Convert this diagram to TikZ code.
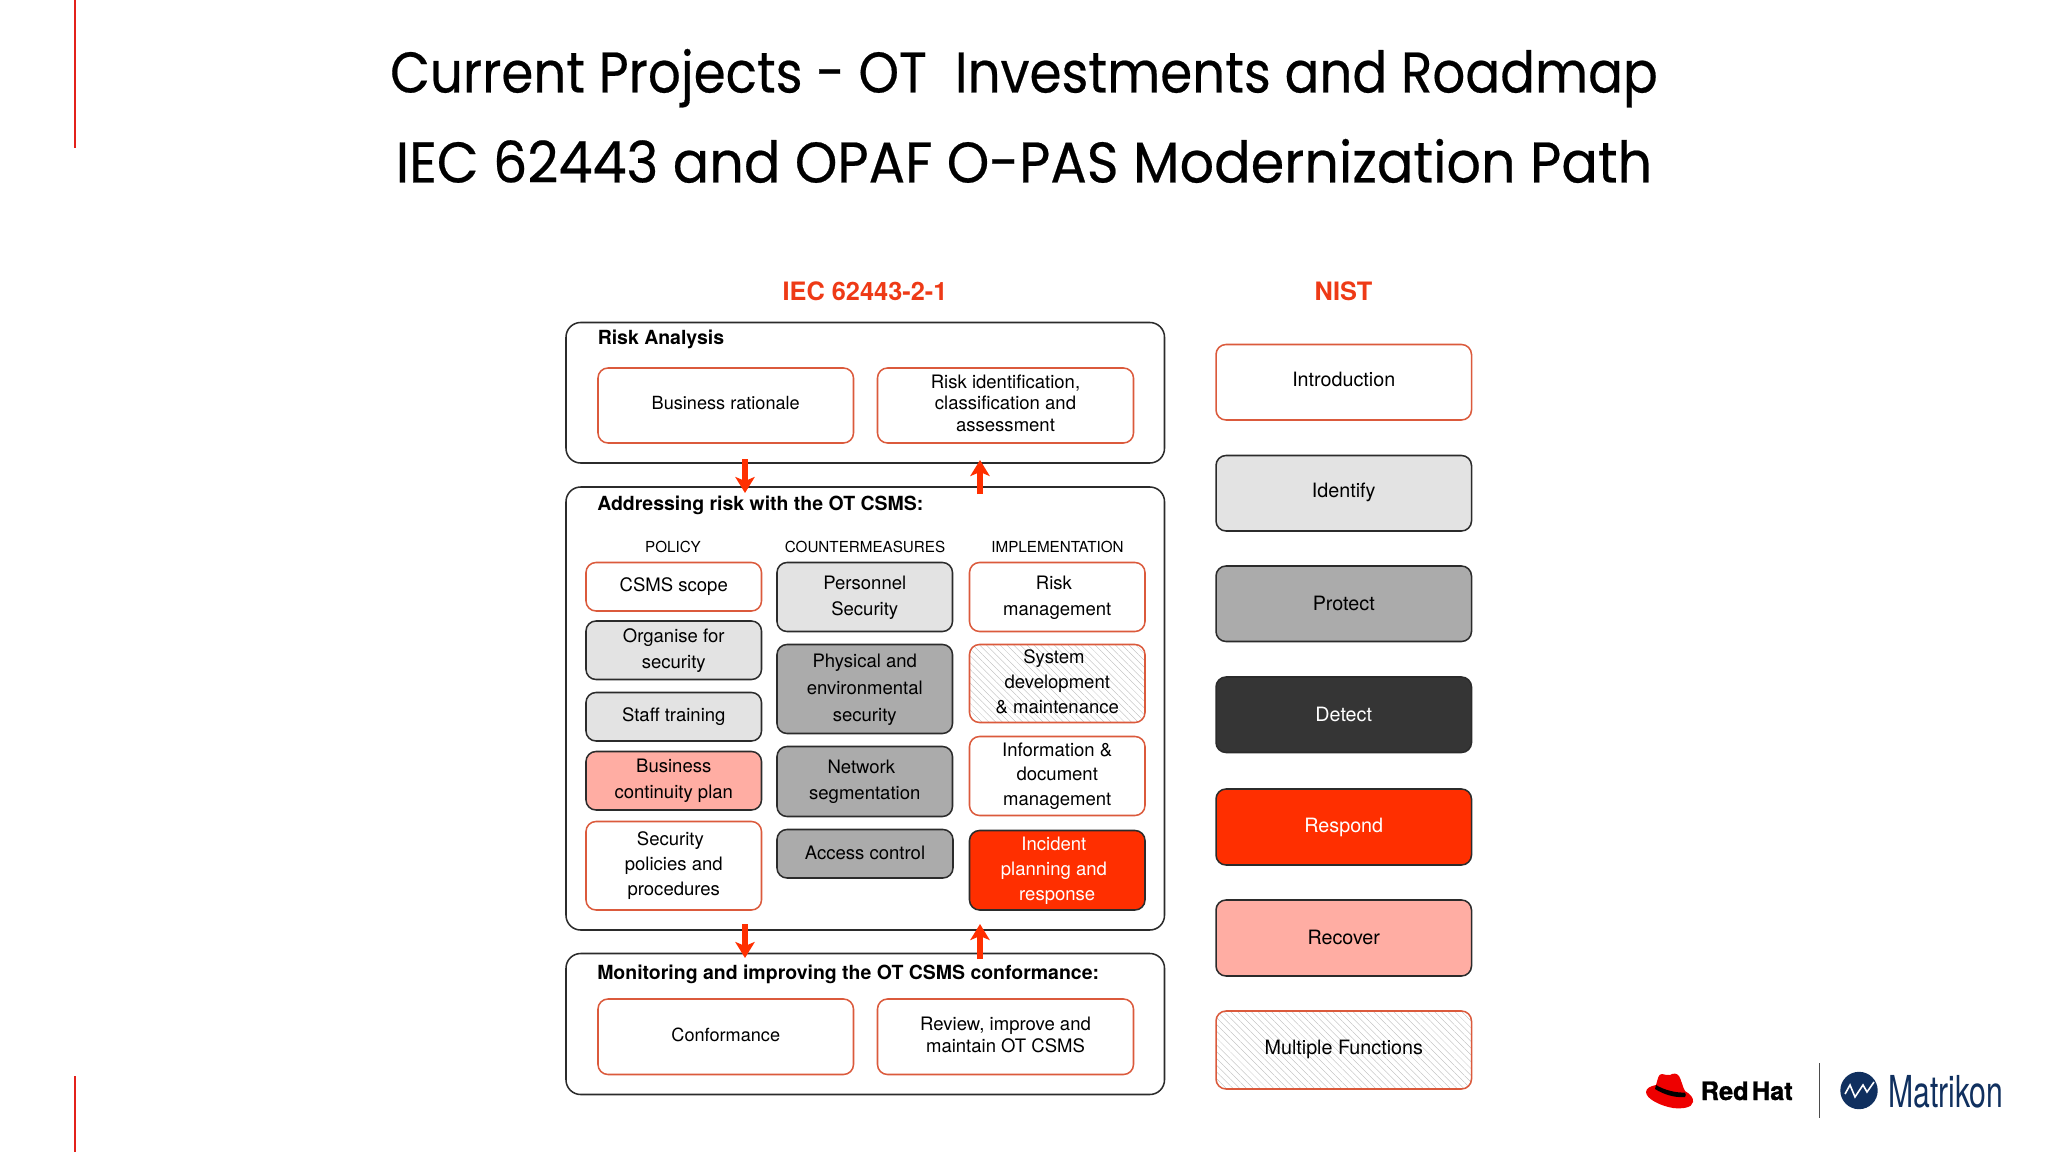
\documentclass[tikz,border=0pt]{standalone}
\usepackage{fontspec}
\usepackage{graphicx}
\usetikzlibrary{arrows.meta,patterns.meta}
\setmainfont{TeX Gyre Heros}
\newfontfamily\titlefont[FakeBold=0.4]{Poppins}
\newfontfamily\rhfont[FakeBold=1.2]{TeX Gyre Heros Bold}
\definecolor{rhred}{HTML}{FF2F00}
\definecolor{hatred}{HTML}{EE0000}
\definecolor{tickred}{HTML}{E3211B}
\definecolor{edgered}{HTML}{DB5A3C}
\definecolor{edgedark}{HTML}{2B2B2B}
\definecolor{lightg}{HTML}{E3E3E3}
\definecolor{midg}{HTML}{ABABAB}
\definecolor{darkg}{HTML}{353535}
\definecolor{salmon}{HTML}{FFADA3}
\definecolor{navy}{HTML}{10305F}
\definecolor{titlered}{HTML}{EE3A16}
\newcommand{\bx}[7]{%
  \pgfmathsetmacro{\bxw}{(#5-#3)*0.75}%
  \pgfmathsetmacro{\bxh}{(#6-#4)*0.75}%
  \pgfmathsetmacro{\bxcx}{(#3+#5)/2}%
  \pgfmathsetmacro{\bxcy}{(#4+#6)/2}%
  \node[tile,#2,minimum width=\bxw pt,minimum height=\bxh pt] (#1) at (\bxcx,\bxcy) {#7};}
\newcommand{\tb}[2]{\raisebox{#1}{\begin{tabular}{@{}c@{}}#2\end{tabular}}}
\tikzset{
  x=0.75pt,y=-0.75pt,
  tile/.style={rectangle,rounded corners=7.5pt,line width=1.15pt,inner sep=0pt,align=center,font=\fontsize{13.9}{19.5}\selectfont},
  redbox/.style={draw=edgered,fill=white},
  blackbox/.style={draw=edgedark},
  lg/.style={blackbox,fill=lightg},
  mg/.style={blackbox,fill=midg},
  dg/.style={blackbox,fill=darkg,text=white},
  sal/.style={blackbox,fill=salmon},
  rsp/.style={blackbox,fill=rhred,text=white},
  hatchbox/.style={draw=edgered,pattern={Lines[angle=-45,distance=3.6pt,line width=0.25pt]},pattern color=black!28},
  outer/.style={draw=edgedark,fill=white,rounded corners=11pt,line width=1.15pt},
  wide/.style={font=\fontsize{13.9}{16.4}\selectfont},
  nist/.style={font=\fontsize{14.8}{18}\selectfont},
  tight/.style={font=\fontsize{13.9}{18.6}\selectfont},
  tall/.style={font=\fontsize{13.9}{20}\selectfont},
  head/.style={inner sep=0pt,font=\bfseries\fontsize{14.6}{17}\selectfont,anchor=west},
  colhead/.style={inner sep=0pt,font=\fontsize{11.4}{14}\selectfont},
  reda/.style={draw=rhred,line width=4.2pt,-{Stealth[length=12pt,width=14.5pt,inset=3pt]}},
  ttl/.style={inner sep=0pt,anchor=base,font=\titlefont\fontsize{43}{50}\selectfont},
  std/.style={inner sep=0pt,font=\bfseries\fontsize{19}{22}\selectfont,text=titlered},
}
\begin{document}
\begin{tikzpicture}
\useasboundingbox[fill=white] (0,0) rectangle (2048,1152);
% slide ticks
\coordinate (tka) at (75,0); \coordinate (tkb) at (75,148);
\coordinate (tkc) at (75,1076); \coordinate (tkd) at (75,1152);
\draw[tickred,line width=1.4pt] (tka) -- (tkb) (tkc) -- (tkd);
% titles
\node[ttl] (t1) at (1024,92.5) {\scalebox{0.899}[1]{Current Projects - OT\; Investments and Roadmap}};
\node[ttl] (t2) at (1024,182.5) {\scalebox{0.943}[1]{IEC 62443 and OPAF O-PAS Modernization Path}};
\node[std] (iec) at (865,291.5) {IEC 62443-2-1};
\node[std] (nistt) at (1343.5,291.5) {NIST};
% outer panels
\bx{risk}{tile,outer}{566}{322.5}{1164.5}{463}{}
\bx{addr}{tile,outer}{566}{487}{1164.5}{930}{}
\bx{moni}{tile,outer}{566}{953.5}{1164.5}{1094.5}{}
\node[head] (riskh) at (597.5,339) {Risk Analysis};
\node[head] (addrh) at (597,505.5) {Addressing risk with the OT CSMS:};
\node[head] (monih) at (597,974) {Monitoring and improving the OT CSMS conformance:};
% risk
\bx{br}{redbox,wide,font=\fontsize{13.6}{16.4}\selectfont}{598}{368}{853.5}{443}{\raisebox{3.5pt}{Business rationale}}
\bx{ri}{redbox,wide}{877.5}{368}{1133.5}{443}{\tb{2.5pt}{Risk identification,\\classification and\\assessment}}
% column headers
\node[colhead] (ch1) at (673,546.5) {POLICY};
\node[colhead] (ch2) at (865,546.5) {COUNTERMEASURES};
\node[colhead] (ch3) at (1057.5,546.5) {IMPLEMENTATION};
% column 1
\bx{c1a}{redbox}{586}{562.5}{761.5}{611}{\raisebox{2pt}{CSMS scope}}
\bx{c1b}{lg}{586}{621}{761.5}{679.5}{\tb{-2pt}{Organise for\\security}}
\bx{c1c}{lg}{586}{692.5}{761.5}{741}{\raisebox{2pt}{Staff training}}
\bx{c1d}{sal}{586}{751.5}{761.5}{810}{\tb{-2pt}{Business\\continuity plan}}
\bx{c1e}{redbox,tight}{586}{821.5}{761.5}{910}{Security\hspace*{5pt}\\policies and\\procedures}
% column 2
\bx{c2a}{lg}{777}{562.5}{952.5}{631.5}{\tb{-4pt}{Personnel\\Security}}
\bx{c2b}{mg,tall}{777}{644.5}{952.5}{733.5}{\tb{-1pt}{Physical and\\environmental\\security}}
\bx{c2c}{mg}{777}{746.5}{952.5}{816.5}{\tb{-1pt}{Network\hspace*{5pt}\\segmentation}}
\bx{c2d}{mg}{777}{829.5}{953}{878}{\raisebox{2pt}{Access control}}
% column 3
\bx{c3a}{redbox}{969.5}{562.5}{1145}{631.5}{\tb{-3pt}{Risk\hspace*{5pt}\\management}}
\bx{c3b}{hatchbox,tight}{969.5}{644.5}{1145}{722.5}{\tb{4pt}{System\hspace*{5pt}\\development\\\&\ maintenance}}
\bx{c3c}{redbox,tight}{969.5}{736.5}{1145}{815.5}{\tb{-5pt}{Information \&\\document\\management}}
\bx{c3d}{rsp,tight}{969.5}{830.5}{1145}{910}{\tb{-5pt}{Incident\hspace*{5pt}\\planning and\hspace*{5pt}\\response}}
% monitoring
\bx{cf}{redbox,wide,font=\fontsize{13.6}{16.4}\selectfont}{598}{999}{853.5}{1074.5}{\raisebox{3pt}{Conformance}}
\bx{rv}{redbox,wide}{877.5}{999}{1133.5}{1074.5}{\tb{3pt}{Review, improve and\\maintain OT CSMS}}
% NIST
\bx{n0}{redbox,nist}{1216}{344.5}{1471.5}{420}{\raisebox{5pt}{Introduction}}
\bx{n1}{lg,nist}{1216}{455.5}{1471.5}{531}{\raisebox{5pt}{Identify}}
\bx{n2}{mg,nist}{1216}{566}{1471.5}{641.5}{\raisebox{1pt}{Protect}}
\bx{n3}{dg,nist}{1216}{677}{1471.5}{752.5}{\raisebox{1pt}{Detect}}
\bx{n4}{rsp,nist}{1216}{789}{1471.5}{865}{\raisebox{-3pt}{Respond}}
\bx{n5}{sal,nist}{1216}{900}{1471.5}{976}{\raisebox{1pt}{Recover}}
\bx{n6}{hatchbox,nist}{1216}{1011}{1471.5}{1089}{\raisebox{4pt}{Multiple Functions}}
% arrows
\coordinate (a1) at (745,459); \coordinate (b1) at (745,493);
\coordinate (a2) at (980,494); \coordinate (b2) at (980,460);
\coordinate (a3) at (745,924); \coordinate (b3) at (745,958);
\coordinate (a4) at (980,959); \coordinate (b4) at (980,924);
\draw[reda] (a1) -- (b1);
\draw[reda] (a2) -- (b2);
\draw[reda] (a3) -- (b3);
\draw[reda] (a4) -- (b4);
% logos: Red Hat
\fill[hatred] (1656,1085) .. controls (1658,1079) and (1658,1074) .. (1662,1074)
  .. controls (1665,1074) and (1667,1076) .. (1670,1075)
  .. controls (1673,1073) and (1677,1073) .. (1679,1076)
  .. controls (1681,1079) and (1683,1088) .. (1685,1091)
  .. controls (1690,1094) and (1694,1098) .. (1693,1102)
  .. controls (1692,1108) and (1682,1109) .. (1673,1108)
  .. controls (1661,1106) and (1646,1099) .. (1646,1092)
  .. controls (1646,1088) and (1651,1086) .. (1656,1085) -- cycle;
\fill[black] (1656,1085) .. controls (1664,1090) and (1676,1093) .. (1685,1092.5)
  .. controls (1686,1094) and (1686,1096) .. (1685,1097)
  .. controls (1674,1098) and (1663,1094) .. (1655,1089) -- cycle;
\node[inner sep=0pt,anchor=base west,font=\rhfont\fontsize{19}{22}\selectfont] (rh) at (1700.5,1100) {Red\hspace{0.13em}Hat};
\coordinate (dva) at (1819.5,1063); \coordinate (dvb) at (1819.5,1118);
\draw[black!70,line width=0.9pt] (dva) -- (dvb);
% Matrikon
\fill[navy] (1859,1090.5) circle[radius=18.7];
\draw[white,line width=1.2pt,line join=miter] (1845,1094) -- (1850,1085) -- (1855,1097) -- (1863,1085) -- (1867,1092) -- (1874,1082);
\node[inner sep=0pt,text=navy,anchor=base west,font=\fontsize{33}{40}\selectfont] (mk) at (1888,1107.5) {\scalebox{0.685}[1]{Matrikon}};
\end{tikzpicture}
\end{document}
